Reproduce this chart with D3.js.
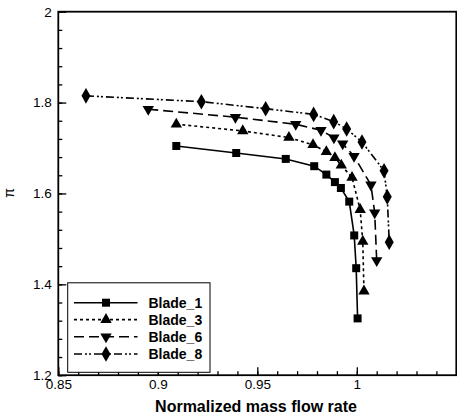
<!DOCTYPE html>
<html>
<head>
<meta charset="utf-8">
<script src="https://cdn.jsdelivr.net/npm/d3@7"></script>
<style>
  html, body { margin: 0; padding: 0; background: #fff; }
  svg { display: block; font-family: "Liberation Sans", Arial, sans-serif; }
</style>
</head>
<body>
<svg id="chart" width="457" height="419"></svg>
<script>
// Compressor characteristic: pressure ratio vs normalized mass flow, four blade variants
const seriesNames = ["Blade_1", "Blade_3", "Blade_6", "Blade_8"];

const blade1Flow = [0.9093, 0.9394, 0.9643, 0.9786, 0.9847, 0.9890, 0.9920, 0.9962, 0.9987, 0.9997, 1.0004];
const blade1Pi   = [1.7045, 1.6890, 1.6760, 1.6600, 1.6415, 1.6250, 1.6120, 1.5820, 1.5076, 1.4355, 1.3250];

const blade3Flow = [0.9093, 0.9427, 0.9659, 0.9780, 0.9847, 0.9890, 0.9922, 0.9976, 1.0017, 1.0030, 1.0036];
const blade3Pi   = [1.7524, 1.7376, 1.7230, 1.7070, 1.6917, 1.6785, 1.6620, 1.6350, 1.5643, 1.4944, 1.3850];

const blade6Flow = [0.8952, 0.9390, 0.9693, 0.9820, 0.9885, 0.9929, 0.9986, 1.0071, 1.0090, 1.0100];
const blade6Pi   = [1.7854, 1.7678, 1.7524, 1.7390, 1.7226, 1.7094, 1.6818, 1.6190, 1.5577, 1.4525];

const blade8Flow = [0.8639, 0.9219, 0.9542, 0.9783, 0.9884, 0.9949, 1.0026, 1.0137, 1.0153, 1.0163];
const blade8Pi   = [1.8148, 1.8020, 1.7866, 1.7740, 1.7580, 1.7420, 1.7133, 1.6498, 1.5925, 1.4928];

const xMajorTicks = [0.85, 0.9, 0.95, 1];
const xTickLabels = ["0.85", "0.9", "0.95", "1"];
const yMajorTicks = [1.2, 1.4, 1.6, 1.8, 2];
const yTickLabels = ["1.2", "1.4", "1.6", "1.8", "2"];

const xTitle = "Normalized mass flow rate";
const yTitle = "π";

// series styling
const dashes  = [null, "3,3", "10,5", "8,3,2,2,2,3"];
const symbols = [d3.symbolSquare, d3.symbolTriangle, d3.symbolTriangle, d3.symbolDiamond];
const symSize = [64, 56, 56, 70];
const symRot  = [0, 0, 180, 0];

const series = [
  {name: seriesNames[0], x: blade1Flow, y: blade1Pi},
  {name: seriesNames[1], x: blade3Flow, y: blade3Pi},
  {name: seriesNames[2], x: blade6Flow, y: blade6Pi},
  {name: seriesNames[3], x: blade8Flow, y: blade8Pi}
];

const svg = d3.select("#chart");
const plotL = 58.3, plotR = 456.3, plotT = 11.7, plotB = 375.2;

const x = d3.scaleLinear().domain([0.85, 1.05]).range([plotL, plotR]);
const y = d3.scaleLinear().domain([1.2, 2]).range([plotB, plotT]);

const g = svg.append("g");

// minor ticks (inward)
const xMinor = d3.range(0.85, 1.0501, 0.01).map(v => +v.toFixed(2));
const yMinor = d3.range(1.2, 2.0001, 0.04).map(v => +v.toFixed(2));

const xAxisMinor = d3.axisBottom(x).tickValues(xMinor).tickSize(-4).tickFormat("");
const xAxisMajor = d3.axisBottom(x).tickValues(xMajorTicks).tickSize(-8)
  .tickFormat((d, i) => xTickLabels[i]);
const yAxisMinor = d3.axisLeft(y).tickValues(yMinor).tickSize(-4).tickFormat("");
const yAxisMajor = d3.axisLeft(y).tickValues(yMajorTicks).tickSize(-8)
  .tickFormat((d, i) => yTickLabels[i]);

function styleAxis(sel) {
  sel.select(".domain").remove();
  sel.selectAll(".tick line").attr("stroke", "#000").attr("stroke-width", 1.3);
  sel.selectAll(".tick text").attr("fill", "#000").style("font-size", "13.5px")
    .style("font-family", "'Liberation Sans', Arial, sans-serif");
}

g.append("g").attr("transform", `translate(0,${plotB})`).call(xAxisMinor).call(styleAxis);
g.append("g").attr("transform", `translate(0,${plotB})`).call(xAxisMajor).call(styleAxis)
  .selectAll(".tick text").attr("dy", "0").attr("y", 14);
g.append("g").attr("transform", `translate(${plotL},0)`).call(yAxisMinor).call(styleAxis);
g.append("g").attr("transform", `translate(${plotL},0)`).call(yAxisMajor).call(styleAxis)
  .selectAll(".tick text").attr("x", -6.5);

// frame
g.append("rect")
  .attr("x", plotL).attr("y", plotT)
  .attr("width", plotR - plotL).attr("height", plotB - plotT)
  .attr("fill", "none").attr("stroke", "#000").attr("stroke-width", 1.8);

// curves
const line = d3.line().x(d => x(d[0])).y(d => y(d[1]));

series.forEach((s, i) => {
  const pts = s.x.map((v, k) => [v, s.y[k]]);
  g.append("path")
    .datum(pts)
    .attr("d", line)
    .attr("fill", "none")
    .attr("stroke", "#000")
    .attr("stroke-width", 1.6)
    .attr("stroke-dasharray", dashes[i]);
  g.append("g").selectAll("path")
    .data(pts)
    .join("path")
    .attr("d", d3.symbol().type(symbols[i]).size(symSize[i]))
    .attr("transform", d => `translate(${x(d[0])},${y(d[1])}) rotate(${symRot[i]})`)
    .attr("fill", "#000");
});

// legend
const lg = svg.append("g");
lg.append("rect")
  .attr("x", 67.7).attr("y", 282.8).attr("width", 142.3).attr("height", 89.5)
  .attr("fill", "#fff").attr("stroke", "#000").attr("stroke-width", 1);
const rowY = [302.7, 319.6, 336.8, 354];
series.forEach((s, i) => {
  lg.append("line")
    .attr("x1", 74).attr("x2", 137.5).attr("y1", rowY[i]).attr("y2", rowY[i])
    .attr("stroke", "#000").attr("stroke-width", 1.6)
    .attr("stroke-dasharray", dashes[i]);
  lg.append("path")
    .attr("d", d3.symbol().type(symbols[i]).size(symSize[i])())
    .attr("transform", `translate(106,${rowY[i]}) rotate(${symRot[i]})`)
    .attr("fill", "#000");
  lg.append("text")
    .attr("x", 148.5).attr("y", rowY[i]).attr("dy", "0.36em")
    .style("font-size", "14px").style("font-weight", "bold")
    .text(s.name);
});

// axis titles
svg.append("text")
  .attr("x", 256).attr("y", 412)
  .attr("text-anchor", "middle")
  .style("font-size", "16px").style("font-weight", "bold")
  .text(xTitle);

svg.append("text")
  .attr("transform", "translate(14,193) rotate(-90)")
  .attr("text-anchor", "middle")
  .style("font-size", "14px")
  .text(yTitle);
</script>
</body>
</html>
